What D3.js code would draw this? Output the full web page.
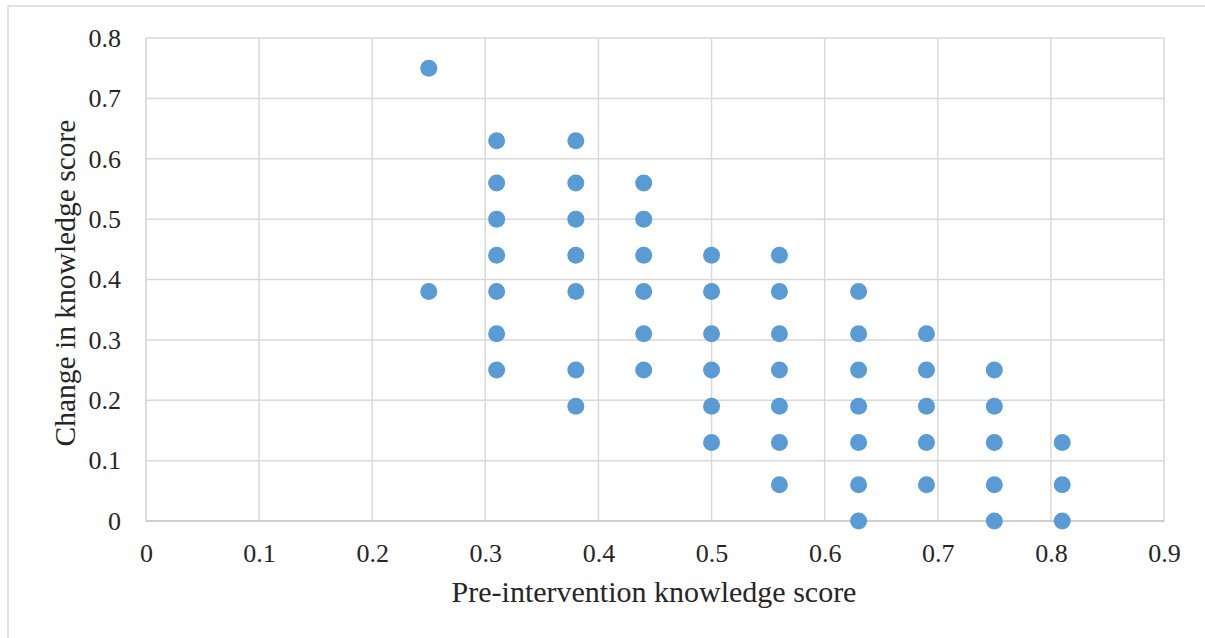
<!DOCTYPE html>
<html>
<head>
<meta charset="utf-8">
<script src="https://cdn.jsdelivr.net/npm/d3@7"></script>
<style>
body { margin: 0; background: #fff; }
svg text { font-family: "Liberation Serif", "DejaVu Serif", "Times New Roman", serif; fill: #262626; }
</style>
</head>
<body>
<div id="the_chart"></div>
<script>
// pre-intervention score (x) and change in score (y), one pair per dot
let pre_scores = [
    0.25, 0.25,
    0.31, 0.31, 0.31, 0.31, 0.31, 0.31, 0.31,
    0.38, 0.38, 0.38, 0.38, 0.38, 0.38, 0.38,
    0.44, 0.44, 0.44, 0.44, 0.44, 0.44,
    0.5, 0.5, 0.5, 0.5, 0.5, 0.5,
    0.56, 0.56, 0.56, 0.56, 0.56, 0.56, 0.56,
    0.63, 0.63, 0.63, 0.63, 0.63, 0.63, 0.63,
    0.69, 0.69, 0.69, 0.69, 0.69,
    0.75, 0.75, 0.75, 0.75, 0.75,
    0.81, 0.81, 0.81
];
let change_scores = [
    0.75, 0.38,
    0.63, 0.56, 0.5, 0.44, 0.38, 0.31, 0.25,
    0.63, 0.56, 0.5, 0.44, 0.38, 0.25, 0.19,
    0.56, 0.5, 0.44, 0.38, 0.31, 0.25,
    0.44, 0.38, 0.31, 0.25, 0.19, 0.13,
    0.44, 0.38, 0.31, 0.25, 0.19, 0.13, 0.06,
    0.38, 0.31, 0.25, 0.19, 0.13, 0.06, 0,
    0.31, 0.25, 0.19, 0.13, 0.06,
    0.25, 0.19, 0.13, 0.06, 0,
    0.13, 0.06, 0
];
let x_ticks = [0, 0.1, 0.2, 0.3, 0.4, 0.5, 0.6, 0.7, 0.8, 0.9];
let y_ticks = [0, 0.1, 0.2, 0.3, 0.4, 0.5, 0.6, 0.7, 0.8];

let points = pre_scores.map(function (d, i) {
    return { x: d, y: change_scores[i] };
});

gen_vis();

function gen_vis() {
    var w = 1205;
    var h = 638;
    var left = 146, right = 1164, top = 38, bottom = 521;
    var serif = "'Liberation Serif', 'DejaVu Serif', serif";

    var xscale = d3.scaleLinear().domain([0, 0.9]).range([left, right]);
    var yscale = d3.scaleLinear().domain([0, 0.8]).range([bottom, top]);

    var svg = d3.select("#the_chart").append("svg")
        .attr("width", w)
        .attr("height", h);

    // outer chart frame (right and bottom edges fall outside the picture)
    svg.append("rect")
        .attr("x", 8).attr("y", 6)
        .attr("width", 1210).attr("height", 650)
        .attr("fill", "none")
        .attr("stroke", "#d9d9d9")
        .attr("stroke-width", 1.5);

    // gridlines
    svg.append("g").selectAll("line")
        .data(x_ticks.slice(1))
        .enter().append("line")
        .attr("x1", d => xscale(d)).attr("x2", d => xscale(d))
        .attr("y1", top).attr("y2", bottom)
        .attr("stroke", "#d9d9d9").attr("stroke-width", 1.5);
    svg.append("g").selectAll("line")
        .data(y_ticks.slice(1))
        .enter().append("line")
        .attr("x1", left).attr("x2", right)
        .attr("y1", d => yscale(d)).attr("y2", d => yscale(d))
        .attr("stroke", "#d9d9d9").attr("stroke-width", 1.5);

    // axis lines
    svg.append("line")
        .attr("x1", left).attr("x2", right)
        .attr("y1", bottom).attr("y2", bottom)
        .attr("stroke", "#bfbfbf").attr("stroke-width", 1.5);
    svg.append("line")
        .attr("x1", left).attr("x2", left)
        .attr("y1", top).attr("y2", bottom)
        .attr("stroke", "#d0d0d0").attr("stroke-width", 1.5);

    var xaxis = d3.axisBottom(xscale)
        .tickValues(x_ticks)
        .tickSize(0)
        .tickPadding(23)
        .tickFormat(d3.format("~g"));
    var gx = svg.append("g")
        .attr("transform", "translate(0," + bottom + ")")
        .call(xaxis);
    gx.attr("font-family", serif).attr("font-size", 26);
    gx.select(".domain").remove();
    gx.selectAll("text")
        .style("font-family", serif)
        .style("font-size", "26px")
        .attr("fill", "#262626");

    var yaxis = d3.axisLeft(yscale)
        .tickValues(y_ticks)
        .tickSize(0)
        .tickPadding(25)
        .tickFormat(d3.format("~g"));
    var gy = svg.append("g")
        .attr("transform", "translate(" + left + ",0)")
        .call(yaxis);
    gy.attr("font-family", serif).attr("font-size", 26);
    gy.select(".domain").remove();
    gy.selectAll("text")
        .style("font-family", serif)
        .style("font-size", "26px")
        .attr("fill", "#262626");

    svg.append("g").selectAll("circle")
        .data(points)
        .enter().append("circle")
        .attr("cx", d => xscale(d.x))
        .attr("cy", d => yscale(d.y))
        .attr("r", 8.5)
        .attr("fill", "#5b9bd5");

    svg.append("text")
        .attr("x", 654)
        .attr("y", 602)
        .attr("text-anchor", "middle")
        .style("font-family", serif)
        .style("font-size", "30px")
        .text("Pre-intervention knowledge score");

    svg.append("text")
        .attr("transform", "translate(75,283) rotate(-90)")
        .attr("text-anchor", "middle")
        .style("font-family", serif)
        .style("font-size", "29.5px")
        .text("Change in knowledge score");
}
</script>
</body>
</html>
